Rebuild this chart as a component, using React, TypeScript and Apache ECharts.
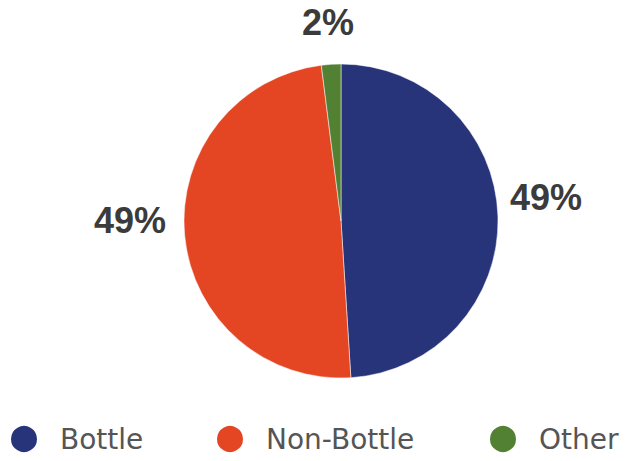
import React, { useEffect, useRef } from "react";
import * as echarts from "echarts";

const categories = ["Bottle", "Non-Bottle", "Other"];
const values = [49, 49, 2];
const colors = ["#283479", "#e44623", "#538134"];
const labelPositions = [
  [546, 197],
  [130, 220],
  [328, 22],
];
const legendLefts = [9, 215, 488];

export default function App() {
  const ref = useRef<HTMLDivElement>(null);
  useEffect(() => {
    document.body.style.margin = "0";
    const chart = echarts.init(ref.current!, null, { renderer: "svg" });
    chart.setOption({
      animation: false,
      legend: categories.map((c, i) => ({
        top: 424,
        left: legendLefts[i],
        padding: 0,
        icon: "circle",
        itemWidth: 28,
        itemHeight: 28,
        data: [c],
        textStyle: {
          fontFamily: "DejaVu Sans",
          fontSize: 28,
          lineHeight: 28,
          color: "#555555",
          padding: [0, 0, 0, 17],
        },
      })),
      series: [
        {
          type: "pie",
          center: [341, 221],
          radius: 157,
          startAngle: 90,
          clockwise: true,
          itemStyle: { borderColor: "#fff", borderWidth: 0.5 },
          label: {
            show: true,
            position: "outside",
            formatter: "{c}%",
            fontFamily: "Liberation Sans",
            fontWeight: "bold",
            fontSize: 36,
            color: "#3b3b3b",
            overflow: "none",
            width: 120,
          },
          labelLine: { show: false },
          labelLayout: (p: any) => ({
            x: labelPositions[p.dataIndex][0],
            y: labelPositions[p.dataIndex][1],
            align: "center",
            verticalAlign: "middle",
          }),
          data: categories.map((c, i) => ({
            name: c,
            value: values[i],
            itemStyle: { color: colors[i] },
          })),
        },
      ],
    });
    return () => chart.dispose();
  }, []);
  return <div ref={ref} style={{ width: 628, height: 461 }} />;
}
